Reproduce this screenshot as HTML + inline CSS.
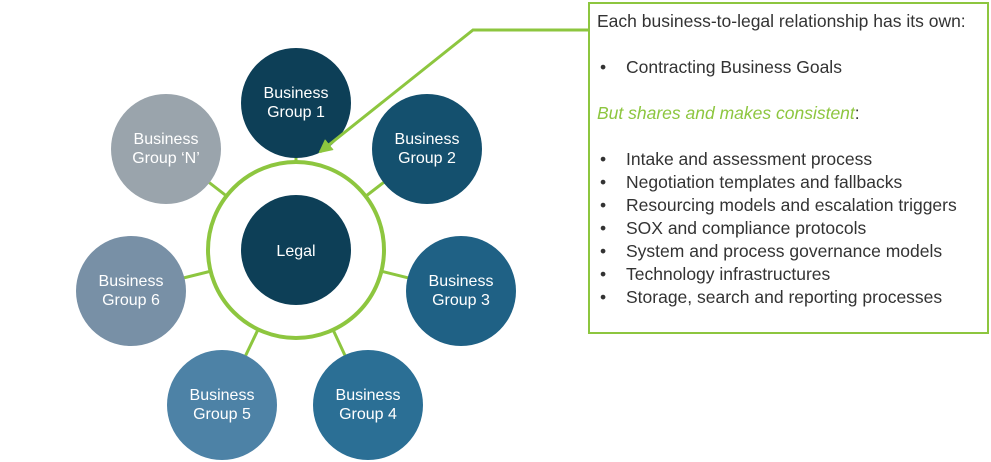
<!DOCTYPE html>
<html><head><style>
body{margin:0;width:991px;height:462px;background:#fff;overflow:hidden;position:relative;font-family:"Liberation Sans",sans-serif}
.box{position:absolute;left:588px;top:2px;width:397px;height:328px;border:2px solid #8dc63f;color:#333;font-size:17.5px}
.l{position:absolute;left:7px;white-space:nowrap}
.b{position:absolute;left:10px}
</style></head><body>
<svg width="991" height="462" style="position:absolute;left:0;top:0" font-family="Liberation Sans, sans-serif" font-size="16" fill="#fff">
<defs><marker id="a" markerWidth="14" markerHeight="14" refX="12" refY="7" orient="auto" markerUnits="userSpaceOnUse"><path d="M0,0 L14,7 L0,14 z" fill="#8dc63f"/></marker></defs>
<g stroke="#8dc63f" stroke-width="3">
<line x1="296" y1="103" x2="296" y2="250"/>
<line x1="427" y1="149" x2="296" y2="250"/>
<line x1="461" y1="291" x2="296" y2="250"/>
<line x1="368" y1="405" x2="296" y2="250"/>
<line x1="222" y1="405" x2="296" y2="250"/>
<line x1="131" y1="291" x2="296" y2="250"/>
<line x1="166" y1="149" x2="296" y2="250"/>
</g>
<circle cx="296" cy="250" r="88" fill="#fff" stroke="#8dc63f" stroke-width="4"/>
<circle cx="296" cy="250" r="55" fill="#0d3f57"/>
<circle cx="296" cy="103" r="55" fill="#0d3f57"/>
<circle cx="427" cy="149" r="55" fill="#14506e"/>
<circle cx="461" cy="291" r="55" fill="#1f6185"/>
<circle cx="368" cy="405" r="55" fill="#2b6f95"/>
<circle cx="222" cy="405" r="55" fill="#4d82a6"/>
<circle cx="131" cy="291" r="55" fill="#7890a6"/>
<circle cx="166" cy="149" r="55" fill="#9aa4ac"/>
<polyline points="588,30 473,30 320,152" fill="none" stroke="#8dc63f" stroke-width="3" marker-end="url(#a)"/>
<g text-anchor="middle">
<text x="296" y="256">Legal</text>
<text x="296" y="98">Business</text><text x="296" y="117">Group 1</text>
<text x="427" y="144">Business</text><text x="427" y="163">Group 2</text>
<text x="461" y="286">Business</text><text x="461" y="305">Group 3</text>
<text x="368" y="400">Business</text><text x="368" y="419">Group 4</text>
<text x="222" y="400">Business</text><text x="222" y="419">Group 5</text>
<text x="131" y="286">Business</text><text x="131" y="305">Group 6</text>
<text x="166" y="144">Business</text><text x="166" y="163">Group ‘N’</text>
</g>
</svg>
<div class="box">
<div class="l" style="top:7px">Each business-to-legal relationship has its own:</div>
<div class="b" style="top:53px">•</div><div class="l" style="left:36px;top:53px">Contracting Business Goals</div>
<div class="l" style="top:99px"><i style="color:#8dc63f">But shares and makes consistent</i>:</div>
<div class="b" style="top:145px">•</div><div class="l" style="left:36px;top:145px">Intake and assessment process</div>
<div class="b" style="top:168px">•</div><div class="l" style="left:36px;top:168px">Negotiation templates and fallbacks</div>
<div class="b" style="top:191px">•</div><div class="l" style="left:36px;top:191px">Resourcing models and escalation triggers</div>
<div class="b" style="top:214px">•</div><div class="l" style="left:36px;top:214px">SOX and compliance protocols</div>
<div class="b" style="top:237px">•</div><div class="l" style="left:36px;top:237px">System and process governance models</div>
<div class="b" style="top:260px">•</div><div class="l" style="left:36px;top:260px">Technology infrastructures</div>
<div class="b" style="top:283px">•</div><div class="l" style="left:36px;top:283px">Storage, search and reporting processes</div>
</div>
</body></html>
